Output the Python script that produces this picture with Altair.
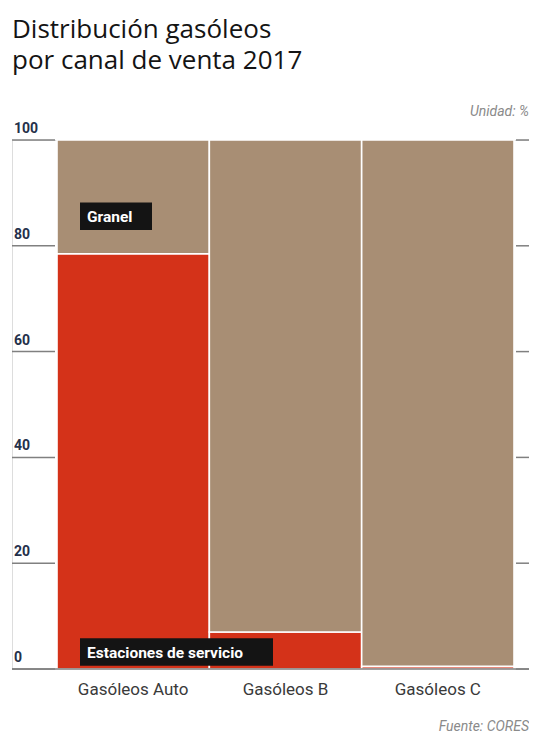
import altair as alt
import pandas as pd

categories = ["Gasóleos Auto", "Gasóleos B", "Gasóleos C"]
series = ["Estaciones de servicio", "Granel"]
estaciones = [78.5, 7.0, 0.5]
granel = [21.5, 93.0, 99.5]
y_ticks = [0, 20, 40, 60, 80, 100]
colors = ["#D43219", "#A88E74"]

rows = []
for i, c in enumerate(categories):
    rows.append({"cat": c, "serie": series[0], "value": estaciones[i], "ord": 0})
    rows.append({"cat": c, "serie": series[1], "value": granel[i], "ord": 1})
df = pd.DataFrame(rows)
ticks_df = pd.DataFrame({"v": y_ticks, "label": [str(t) for t in y_ticks]})

FONT = "Roboto"
W, H = 517, 529
ysc = alt.Scale(domain=[0, 100], nice=False, zero=True)
xsc = alt.Scale(domain=categories, range=[45, 502], paddingInner=0, paddingOuter=0)

bars = alt.Chart(df).mark_bar(stroke="white", strokeWidth=1.6).encode(
    x=alt.X("cat:N", scale=xsc, sort=categories,
            axis=alt.Axis(title=None, ticks=False, domain=False, labelAngle=0,
                          labelFont=FONT, labelFontSize=17,
                          labelColor="#3a3a3a", labelPadding=12)),
    y=alt.Y("value:Q", stack="zero", scale=ysc, axis=None),
    color=alt.Color("serie:N", scale=alt.Scale(domain=series, range=colors), legend=None),
    order=alt.Order("ord:Q"),
)

left_ticks = alt.Chart(ticks_df).mark_rule(color="#808080", strokeWidth=1.5).encode(
    y=alt.Y("v:Q", scale=ysc), x=alt.value(0), x2=alt.value(43))
right_ticks = alt.Chart(ticks_df).mark_rule(color="#808080", strokeWidth=1.5).encode(
    y=alt.Y("v:Q", scale=ysc), x=alt.value(504), x2=alt.value(W))
base = alt.Chart(pd.DataFrame({"v": [0]})).mark_rule(color="#808080", strokeWidth=1.5).encode(
    y=alt.Y("v:Q", scale=ysc), x=alt.value(0), x2=alt.value(W))
tick_labels = alt.Chart(ticks_df).mark_text(
    align="left", baseline="alphabetic", dy=-7, font=FONT, fontWeight="bold",
    fontSize=14, color="#24304a").encode(
    y=alt.Y("v:Q", scale=ysc), x=alt.value(2), text="label:N")

ann_labels = ["Granel", "Estaciones de servicio"]
ann_y = [85.6, 3.2]
ann_right = [140, 261]
ann_layers = []
for lab, yv, xr in zip(ann_labels, ann_y, ann_right):
    d = pd.DataFrame({"label": [lab], "y0": [yv - 2.6], "y1": [yv + 2.6], "y": [yv]})
    ann_layers.append(alt.Chart(d).mark_rect(color="#141414").encode(
        x=alt.value(68), x2=alt.value(xr),
        y=alt.Y("y0:Q", scale=ysc), y2="y1:Q"))
    ann_layers.append(alt.Chart(d).mark_text(
        align="left", baseline="middle", font=FONT, fontWeight="bold",
        fontSize=15.5, color="white", dy=1).encode(
        x=alt.value(75), y=alt.Y("y:Q", scale=ysc), text="label:N"))

title_text = "Distribución gasóleos\npor canal de venta 2017"
title = alt.Chart(pd.DataFrame({"t": [title_text]})).mark_text(
    align="left", baseline="alphabetic", font="Open Sans", fontSize=26, fontWeight=500,
    color="#141414", lineBreak="\n", lineHeight=31).encode(
    x=alt.value(0), y=alt.value(-102), text="t:N")
unidad = alt.Chart(pd.DataFrame({"t": ["Unidad: %"]})).mark_text(
    align="right", baseline="middle", font=FONT, fontStyle="italic",
    fontSize=14, color="#8a8a8a").encode(x=alt.value(W), y=alt.value(-28), text="t:N")
fuente = alt.Chart(pd.DataFrame({"t": ["Fuente: CORES"]})).mark_text(
    align="right", baseline="middle", font=FONT, fontStyle="italic",
    fontSize=14, color="#8a8a8a").encode(x=alt.value(W), y=alt.value(H + 58), text="t:N")

chart = alt.layer(bars, left_ticks, right_ticks, base, tick_labels, *ann_layers,
                  title, unidad, fuente).properties(
    width=W, height=H,
    padding={"left": 4, "top": 132, "right": 0, "bottom": 65},
    autosize=alt.AutoSizeParams(type="none"),
).configure_view(stroke=None).configure(background="white")

chart.save("out.html", embed_options={"renderer": "svg", "actions": False})
